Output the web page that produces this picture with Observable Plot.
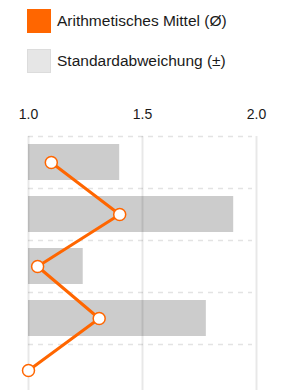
<!DOCTYPE html>
<html>
<head>
<meta charset="utf-8">
<script src="https://cdn.jsdelivr.net/npm/d3@7"></script>
<script src="https://cdn.jsdelivr.net/npm/@observablehq/plot@0.6"></script>
<style>
  html, body { margin: 0; padding: 0; background: #fff; overflow: hidden; }
  body { font-family: "Liberation Sans", Arial, Helvetica, sans-serif; width: 282px; }
  .legend { padding: 9px 0 0 27px; height: 79px; box-sizing: border-box; }
  .item { display: flex; align-items: center; height: 24px; margin-bottom: 16px; font-size: 15.5px; color: #1a1a1a; }
  .sw { width: 24px; height: 24px; box-sizing: border-box; margin-right: 6px; }
  #chart { margin-top: 9px; }
</style>
</head>
<body>
<div class="legend">
  <div class="item"><div class="sw" style="background:#ff6600"></div><span>Arithmetisches Mittel (Ø)</span></div>
  <div class="item"><div class="sw" style="background:#e6e6e6;border:1px solid #dcdcdc"></div><span>Standardabweichung (±)</span></div>
</div>
<div id="chart"></div>
<script>
const categories = ["Frage 1", "Frage 2", "Frage 3", "Frage 4", "Frage 5"];
const meanValues = [1.10, 1.40, 1.04, 1.31, 1.00];
const stdValues = [1.40, 1.90, 1.24, 1.78, 0];
const xTicks = [1.0, 1.5, 2.0];

const data = categories.map((c, i) => ({cat: c, mean: meanValues[i], std: stdValues[i]}));

const W = 282, H = 308, mTop = 48, mBottom = 0;
const step = (H - mTop - mBottom) / categories.length;

const chart = Plot.plot({
  width: W,
  height: H,
  marginTop: mTop,
  marginBottom: mBottom,
  marginLeft: 28,
  marginRight: 26,
  style: {fontFamily: "'Liberation Sans', Arial, Helvetica, sans-serif", fontSize: "14px", color: "#1a1a1a", background: "#fff"},
  x: {domain: [1, 2], axis: "top", ticks: xTicks, tickFormat: d3.format(".1f"), tickSize: 0, tickPadding: 18, label: null},
  y: {domain: categories, axis: null, padding: 0},
  marks: [
    Plot.ruleY(categories, {y: d => d, dy: -step / 2, stroke: "#e3e3e3", strokeWidth: 1.5, strokeDasharray: "5,5", insetRight: 4}),
    Plot.barX(data.filter(d => d.std > 1), {x1: 1, x2: "std", y: "cat", fill: "#cccccc", insetTop: 8, insetBottom: 8}),
    Plot.ruleX(xTicks, {stroke: "#000", strokeOpacity: 0.09, strokeWidth: 2}),
    Plot.line(data, {x: "mean", y: "cat", stroke: "#ff6600", strokeWidth: 3}),
    Plot.dot(data, {x: "mean", y: "cat", r: 6, fill: "#fff", stroke: "#ff6600", strokeWidth: 1.5})
  ]
});
document.getElementById("chart").appendChild(chart);
</script>
</body>
</html>
